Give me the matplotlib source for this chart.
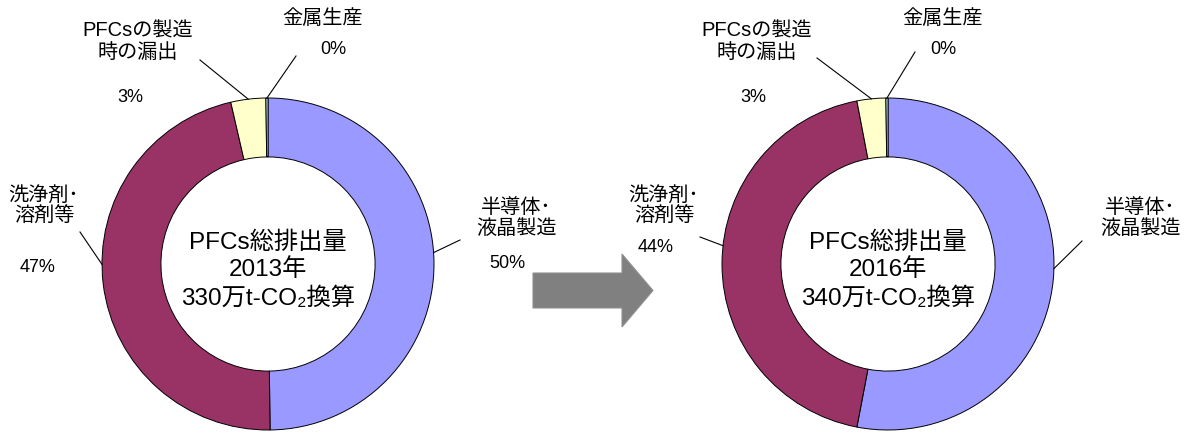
import matplotlib
matplotlib.use("Agg")
import matplotlib.pyplot as plt
import numpy as np
from matplotlib.patches import Polygon

plt.rcParams['font.family'] = ['Liberation Sans', 'Noto Sans CJK JP', 'DejaVu Sans']

W, H = 1189, 432

# data
categories = ["半導体･\n液晶製造", "洗浄剤･\n溶剤等", "PFCsの製造\n時の漏出", "金属生産"]
share_2013 = [49.8, 46.6, 3.4, 0.2]
share_2016 = [53.0, 44.0, 2.8, 0.2]
pct_2013 = ["50%", "47%", "3%", "0%"]
pct_2016 = ["", "44%", "3%", "0%"]
years = ["2013", "2016"]
totals = ["330", "340"]
colors = ["#9999FF", "#993366", "#FFFFCC", "#CCFFFF"]

# layout (pixel coords, y from top)
centers = [(268, 264), (888, 264)]
R = 166
hole = 0.645
# where each leader line touches its slice (fraction of slice, clockwise)
attach_frac = [0.48, 0.54, 0.5, 0.5]
# per chart, same order as categories: label centre, percent centre, leader start
label_pos = [
    [(516, 218), (44, 206), (138, 42), (322, 18)],
    [(1140, 218), (664, 206), (757, 42), (942, 18)],
]
pct_pos = [
    [(507, 264), (38, 268), (130, 97), (333, 50)],
    [(0, 0), (656, 248), (753, 97), (943, 50)],
]
lead_pos = [
    [(460, 240), (80, 232), (200, 60), (296, 56)],
    [(1082, 241), (700, 237), (817, 58), (915, 52)],
]


def Y(y):
    return H - y


fig = plt.figure(figsize=(W / 100, H / 100), dpi=100)
ax = fig.add_axes([0, 0, 1, 1])

for k, shares in enumerate([share_2013, share_2016]):
    cx, cy = centers[k]
    wedges, _ = ax.pie(shares, center=(cx, Y(cy)), radius=R, startangle=90,
                       counterclock=False, colors=colors,
                       wedgeprops=dict(width=R * (1 - hole), edgecolor="black",
                                       linewidth=0.7))
    pcts = [pct_2013, pct_2016][k]
    for i, w in enumerate(wedges):
        lx, ly = label_pos[k][i]
        ax.text(lx, Y(ly), categories[i], ha="center", va="center",
                fontsize=14.5, linespacing=1.15)
        if pcts[i]:
            px, py = pct_pos[k][i]
            ax.text(px, Y(py), pcts[i], ha="center", va="center", fontsize=13)
        ang = np.deg2rad(w.theta2 - attach_frac[i] * (w.theta2 - w.theta1))
        ex, ey = cx + R * np.cos(ang), Y(cy) + R * np.sin(ang)
        sx, sy = lead_pos[k][i]
        ax.plot([sx, ex], [Y(sy), ey], color="black", lw=0.8)

    ax.text(cx, Y(243), "PFCs総排出量", ha="center", va="center", fontsize=17.5)
    ax.text(cx, Y(270), years[k] + "年", ha="center", va="center", fontsize=17.5)
    ax.text(cx, Y(298), totals[k] + "万t-CO₂換算", ha="center", va="center",
            fontsize=17.5)

# arrow between the two years
arrow = [(533, 273), (622, 273), (622, 254), (653, 290.5), (622, 327),
         (622, 308), (533, 308)]
ax.add_patch(Polygon([(x, Y(y)) for x, y in arrow], closed=True,
                     facecolor="#808080", edgecolor="#909090", lw=0.8))

ax.set_xlim(0, W)
ax.set_ylim(0, H)
ax.set_aspect("equal")
ax.axis("off")

fig.savefig("out.png", dpi=100)
